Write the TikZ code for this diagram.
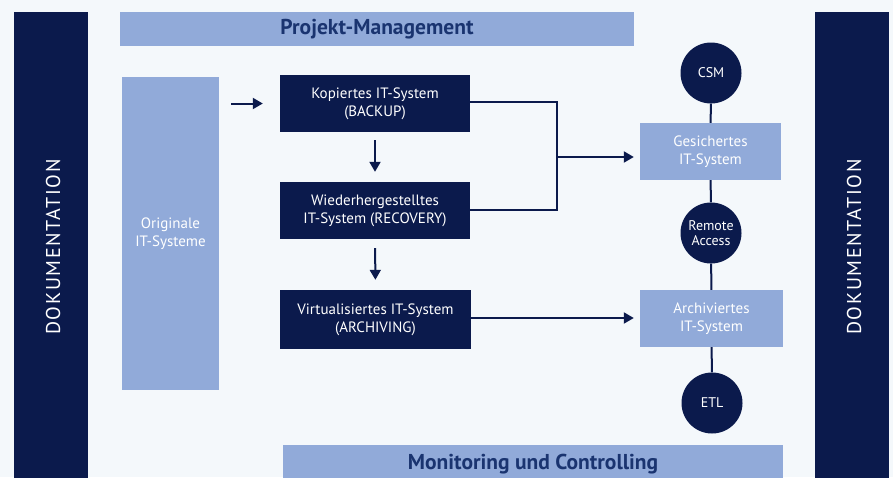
\documentclass[tikz,border=0pt]{standalone}
\usepackage{fontspec}
\setmainfont{PT Sans}
\usetikzlibrary{arrows.meta}
\definecolor{navy}{HTML}{0B1A4C}
\definecolor{lightblue}{HTML}{91AAD9}
\definecolor{bgc}{HTML}{F4F8FB}
\definecolor{txtblue}{HTML}{1A3470}
\tikzset{
  darkbox/.style={rectangle, fill=navy, text=white, font=\fontsize{15}{18}\selectfont, align=center, inner sep=0pt},
  lightbox/.style={rectangle, fill=lightblue, text=white, font=\fontsize{15}{18}\selectfont, align=center, inner sep=0pt},
  band/.style={rectangle, fill=lightblue, inner sep=0pt},
  bandtext/.style={text=txtblue, font=\fontsize{21.5}{24}\selectfont\bfseries, inner sep=0pt},
  sidebar/.style={rectangle, fill=navy, text=white, inner sep=0pt},
  sidetext/.style={text=white, font=\fontsize{20}{22}\selectfont\addfontfeatures{LetterSpace=8}, rotate=90, inner sep=0pt},
  roundel/.style={circle, fill=navy, text=white, font=\fontsize{14}{15}\selectfont, align=center, minimum size=61pt, inner sep=0pt},
  flow/.style={draw=navy, line width=2pt, -{Triangle[length=10pt,width=11pt]}},
  link/.style={draw=navy, line width=2pt},
}
\begin{document}
\begin{tikzpicture}[x=1pt,y=-1pt]
\fill[bgc] (0,0) rectangle (893,477);
\useasboundingbox (0,0) rectangle (893,477);
\begin{scope}
\clip (0,0) rectangle (893,477);
\node[sidebar, minimum width=74pt, minimum height=480pt] (left) at (51,252) {};
\node[sidebar, minimum width=74pt, minimum height=480pt] (right) at (852,252) {};
\node[sidetext] (ltext) at (53,247) {DOKUMENTATION};
\node[sidetext] (rtext) at (854,247) {DOKUMENTATION};
\node[band, minimum width=514pt, minimum height=34pt] (pm) at (377,29) {};
\node[bandtext] (pmt) at (377,29) {Projekt-Management};
\node[band, minimum width=500pt, minimum height=40pt] (mc) at (533,465) {};
\node[bandtext] (mct) at (533,464) {Monitoring und Controlling};
\end{scope}

\node[lightbox, minimum width=97pt, minimum height=313pt] (orig) at (170.5,233.5) {Originale\\IT-Systeme};
\node[darkbox, minimum width=190pt, minimum height=57pt] (kop) at (375,103.5) {Kopiertes IT-System\\(BACKUP)};
\node[darkbox, minimum width=190pt, minimum height=57pt] (wie) at (375,210.5) {Wiederhergestelltes\\IT-System (RECOVERY)};
\node[darkbox, minimum width=191pt, minimum height=59pt] (vir) at (375.5,319.5) {Virtualisiertes IT-System\\(ARCHIVING)};
\node[lightbox, minimum width=141pt, minimum height=57pt] (ges) at (710.5,151.5) {Gesichertes\\IT-System};
\node[lightbox, minimum width=143pt, minimum height=57pt] (arc) at (711.5,318.5) {Archiviertes\\IT-System};
\node[roundel] (csm) at (711,73) {CSM};
\node[roundel] (ra) at (711,233) {Remote\\Access};
\node[roundel] (etl) at (712,403) {ETL};

\draw[link] (csm) -- (ges);
\draw[link] (ges) -- (ra);
\draw[link] (ra) -- (arc);
\draw[link] (arc) -- (etl);

\draw[flow, shorten <=12pt, shorten >=17pt] (orig.east |- kop.west) -- (kop.west);
\draw[flow, shorten <=8pt, shorten >=10pt] (kop.south) -- (wie.north);
\draw[flow, shorten <=9pt, shorten >=10pt] (wie.south) -- (vir.north);
\coordinate (jn) at (557,157);
\draw[link] (kop.east |- 0,102) -| (jn) |- (wie.east |- 0,210);
\draw[flow, shorten >=6pt] (jn) -- (ges.west |- jn);
\draw[flow, shorten >=6pt] (vir.east |- 0,318) -- (arc.west |- 0,318);
\end{tikzpicture}
\end{document}
